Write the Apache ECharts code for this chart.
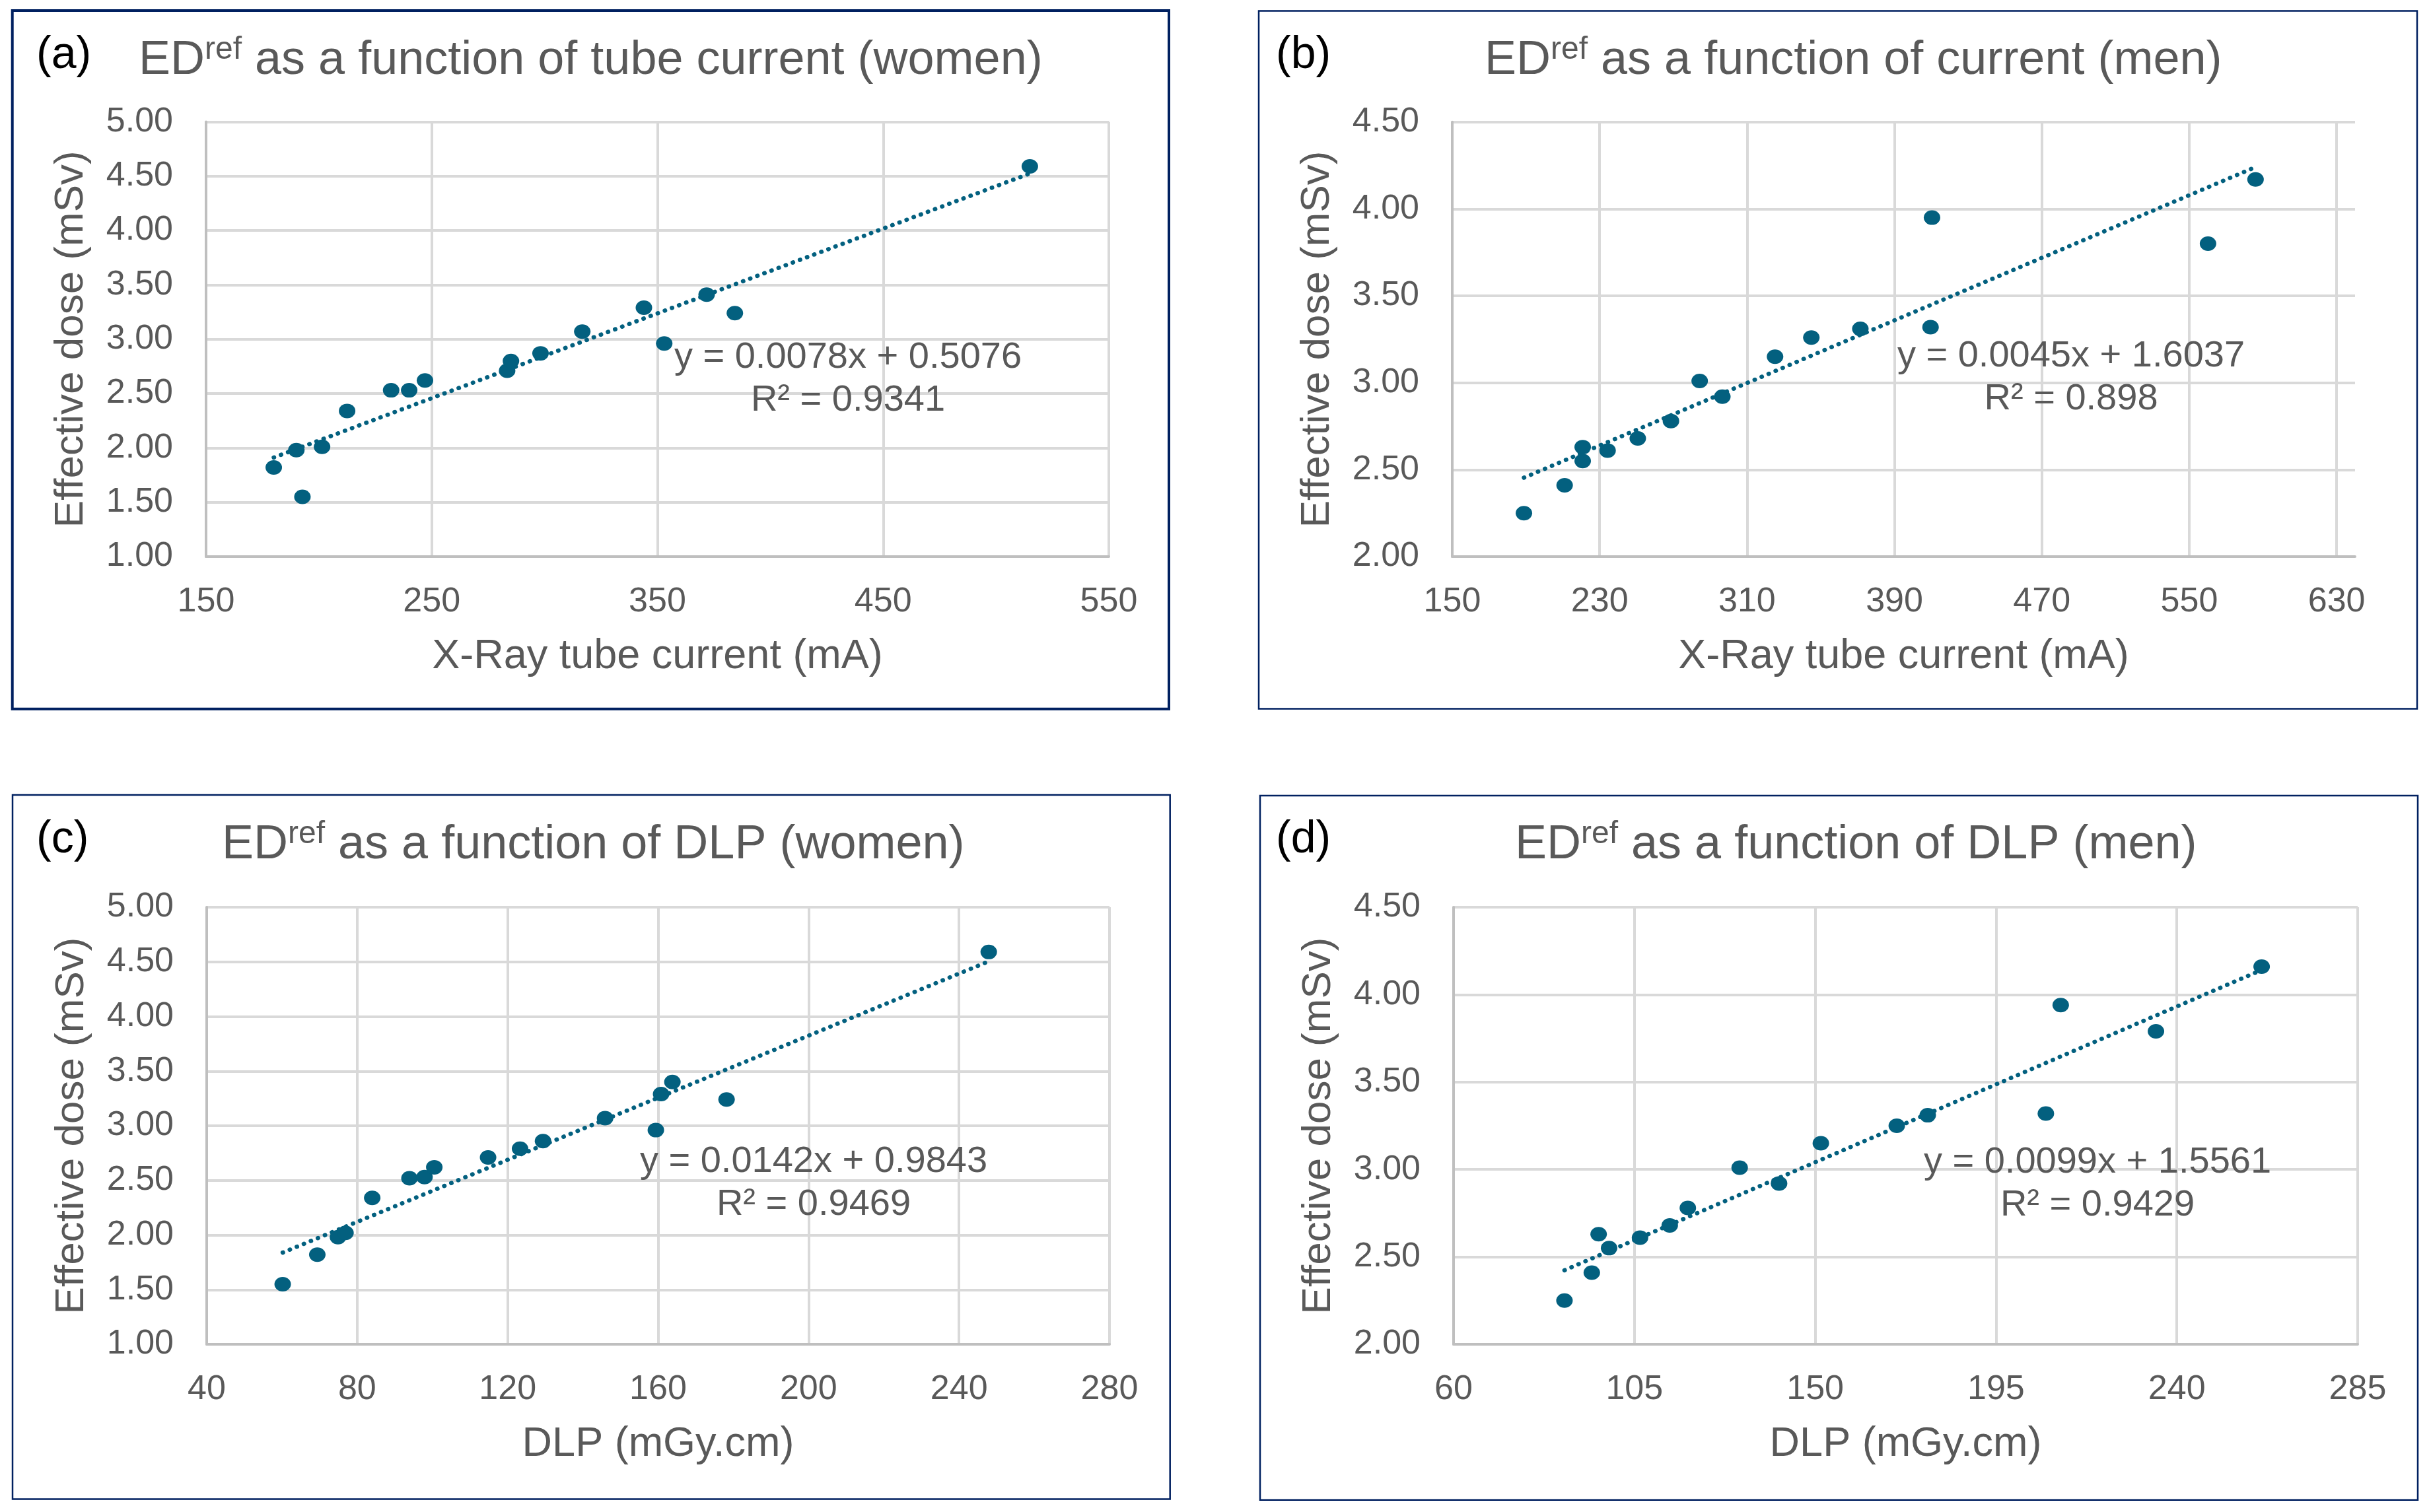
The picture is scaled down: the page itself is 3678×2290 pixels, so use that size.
<!DOCTYPE html>
<html><head><meta charset="utf-8">
<script src="https://cdn.jsdelivr.net/npm/echarts@6/dist/echarts.min.js"></script>
<style>html,body{margin:0;padding:0;background:#fff}#c{width:3678px;height:2290px}</style>
</head><body><div id="c"></div>
<script>
// (a) ED vs tube current, women
const aCurrent = [180, 190, 192.7, 201.4, 212.5, 232, 240, 247, 283.4, 285.1, 298.2, 316.7, 344, 353, 371.8, 384.3, 515];
const aDose    = [1.82, 1.98, 1.55, 2.01, 2.34, 2.53, 2.53, 2.62, 2.71, 2.80, 2.87, 3.07, 3.29, 2.96, 3.41, 3.24, 4.59];
// (b) ED vs tube current, men
const bCurrent = [188.9, 211, 220.8, 220.8, 234.3, 250.7, 268.7, 284.3, 296.6, 325.2, 344.9, 371.5, 409.6, 410.4, 560.2, 586];
const bDose    = [2.25, 2.41, 2.63, 2.55, 2.61, 2.68, 2.78, 3.01, 2.92, 3.15, 3.26, 3.31, 3.32, 3.95, 3.80, 4.17];
// (c) ED vs DLP, women
const cDLP  = [60.2, 69.4, 74.9, 76.9, 84, 93.9, 97.9, 100.5, 114.8, 123.3, 129.4, 145.9, 159.4, 160.8, 163.8, 178.2, 247.9];
const cDose = [1.55, 1.82, 1.98, 2.02, 2.34, 2.52, 2.53, 2.62, 2.71, 2.79, 2.86, 3.07, 2.96, 3.29, 3.40, 3.24, 4.59];
// (d) ED vs DLP, men
const dDLP  = [87.6, 94.4, 96.1, 98.7, 106.4, 113.8, 118.3, 131.2, 141, 151.4, 170.3, 178, 207.4, 211.1, 234.8, 261.1];
const dDose = [2.25, 2.41, 2.63, 2.55, 2.61, 2.68, 2.78, 3.01, 2.92, 3.15, 3.25, 3.31, 3.32, 3.94, 3.79, 4.16];
// trendlines (slope, intercept, R²) as printed
const trendSlope = [0.0078, 0.0045, 0.0142, 0.0099];
const trendIntercept = [0.5076, 1.6037, 0.9843, 1.5561];
const trendR2 = ['0.9341', '0.898', '0.9469', '0.9429'];
// axes
const xMins = [150, 150, 40, 60];
const xMaxs = [550, 640, 280, 285];
const xSteps = [100, 80, 40, 45];
const yMins = [1, 2, 1, 2];
const yMaxs = [5, 4.5, 5, 4.5];
const xNames = ['X-Ray tube current (mA)', 'X-Ray tube current (mA)', 'DLP (mGy.cm)', 'DLP (mGy.cm)'];
const yName = 'Effective dose (mSv)';
const panelLabels = ['(a)', '(b)', '(c)', '(d)'];
const titleRest = [' as a function of tube current (women)', ' as a function of current (men)', ' as a function of DLP (women)', ' as a function of DLP (men)'];

const FONT = "'Liberation Sans', Arial, sans-serif";
const TXT = '#595959';
const PT = '#03607f';

const xsAll = [aCurrent, bCurrent, cDLP, dDLP];
const ysAll = [aDose, bDose, cDose, dDose];

const layout = [
  {grid:{left:312, top:184.5, width:1367, height:658.5}, title:[210, 52], label:[55, 84], eq:[1284, 542], box:[18.7, 16, 1770, 1073.7], bw:4},
  {grid:{left:2199, top:184.8, width:1367, height:658.2}, title:[2248, 52], label:[1932, 84], eq:[3136, 540], box:[1906, 16.5, 3660, 1073.5], bw:2.5},
  {grid:{left:313, top:1374, width:1367, height:662}, title:[336, 1240], label:[55, 1272], eq:[1232, 1760], box:[19, 1204, 1771.7, 2270.5], bw:2.5},
  {grid:{left:2201, top:1374, width:1369, height:662}, title:[2294, 1240], label:[1932, 1272], eq:[3176, 1761], box:[1908, 1205, 3661, 2271.7], bw:2.5}
];

const grids = [], xAxes = [], yAxes = [], series = [], titles = [], graphics = [];
for (let i = 0; i < 4; i++) {
  const L = layout[i];
  grids.push(Object.assign({containLabel:false}, L.grid));
  const nTicks = Math.floor((xMaxs[i] - xMins[i]) / xSteps[i] + 1e-9) + 1;
  const exact = Math.abs((xMaxs[i] - xMins[i]) / xSteps[i] - (nTicks - 1)) < 1e-9;
  const splitColors = [];
  for (let k = 0; k < nTicks; k++) splitColors.push('#d9d9d9');
  if (!exact) splitColors.push('rgba(0,0,0,0)');
  xAxes.push({
    gridIndex:i, type:'value', min:xMins[i], max:xMaxs[i], interval:xSteps[i],
    name:xNames[i], nameLocation:'middle', nameGap:120,
    nameTextStyle:{fontSize:63, color:TXT, fontFamily:FONT},
    axisLine:{show:true, onZero:false, lineStyle:{color:'#bfbfbf', width:4}},
    axisTick:{show:false},
    axisLabel:{fontSize:52, color:TXT, fontFamily:FONT, margin:43, showMaxLabel:exact},
    splitLine:{show:true, lineStyle:{color:splitColors, width:4}}
  });
  yAxes.push({
    gridIndex:i, type:'value', min:yMins[i], max:yMaxs[i], interval:0.5,
    name:yName, nameLocation:'middle', nameRotate:90, nameGap:173,
    nameTextStyle:{fontSize:62, color:TXT, fontFamily:FONT},
    axisLine:{show:true, onZero:false, lineStyle:{color:'#bfbfbf', width:4}},
    axisTick:{show:false},
    axisLabel:{fontSize:52, color:TXT, fontFamily:FONT, margin:50, formatter:v => v.toFixed(2)},
    splitLine:{show:true, lineStyle:{color:'#d9d9d9', width:4}}
  });
  const xs = xsAll[i], ys = ysAll[i];
  const x0 = Math.min.apply(null, xs), x1 = Math.max.apply(null, xs);
  series.push({
    type:'line', xAxisIndex:i, yAxisIndex:i, symbol:'none', silent:true, z:2,
    data:[[x0, trendSlope[i]*x0 + trendIntercept[i]], [x1, trendSlope[i]*x1 + trendIntercept[i]]],
    lineStyle:{color:PT, width:6.5, type:[0.5, 11], cap:'round'}
  });
  series.push({
    type:'scatter', xAxisIndex:i, yAxisIndex:i, symbol:'circle', symbolSize:[25, 22], z:3,
    itemStyle:{color:PT, opacity:1},
    data: xs.map((x, j) => [x, ys[j]])
  });
  titles.push({
    left:L.title[0], top:L.title[1], padding:0,
    text:'{m|ED}{s|ref}{m|' + titleRest[i] + '}',
    textStyle:{fontWeight:'normal', rich:{
      m:{fontSize:72, lineHeight:80, color:TXT, fontFamily:FONT, fontWeight:'normal'},
      s:{fontSize:48, lineHeight:54, verticalAlign:'top', color:TXT, fontFamily:FONT, fontWeight:'normal'}
    }}
  });
  graphics.push({
    type:'rect', silent:true, z:0,
    shape:{x:L.box[0], y:L.box[1], width:L.box[2]-L.box[0], height:L.box[3]-L.box[1]},
    style:{fill:'none', stroke:'#002060', lineWidth:L.bw}
  });
  graphics.push({
    type:'text', silent:true, z:10,
    style:{text:panelLabels[i], x:L.label[0], y:L.label[1], fontSize:68, fontFamily:FONT, fill:'#000', align:'left', verticalAlign:'middle'}
  });
  const sign = trendIntercept[i] >= 0 ? ' + ' : ' - ';
  graphics.push({
    type:'text', silent:true, z:10,
    style:{text:'y = ' + trendSlope[i].toFixed(4) + 'x' + sign + Math.abs(trendIntercept[i]).toFixed(4), x:L.eq[0], y:L.eq[1], fontSize:56, fontFamily:FONT, fill:TXT, align:'center', verticalAlign:'middle'}
  });
  graphics.push({
    type:'text', silent:true, z:10,
    style:{text:'R\u00b2 = ' + trendR2[i], x:L.eq[0], y:L.eq[1] + 65, fontSize:56, fontFamily:FONT, fill:TXT, align:'center', verticalAlign:'middle'}
  });
}

const chart = echarts.init(document.getElementById('c'), null, {renderer:'canvas'});
chart.setOption({
  animation:false,
  backgroundColor:'#ffffff',
  title:titles,
  grid:grids,
  xAxis:xAxes,
  yAxis:yAxes,
  series:series,
  graphic:graphics
});
</script>
</body></html>
